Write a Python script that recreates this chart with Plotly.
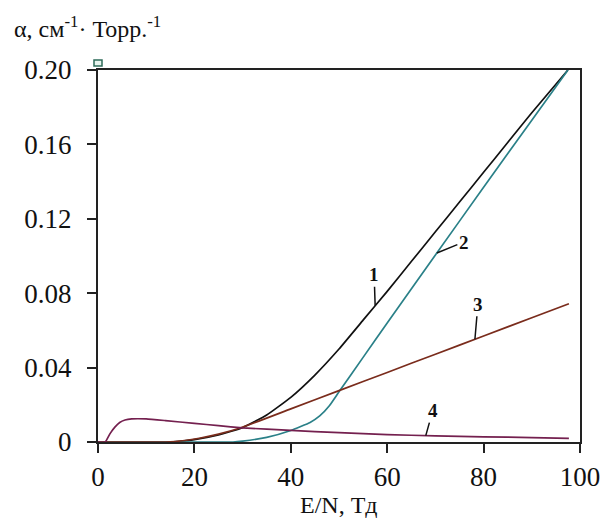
import numpy as np
import plotly.graph_objects as go

# ---- data ----
x1 = [0, 15, 20, 25, 30, 35, 40, 45, 50, 55, 60, 65, 70, 75, 80, 85, 90, 97.5]
y1 = [0, 0, 0.0013, 0.0038, 0.0077, 0.0145, 0.0240, 0.0360, 0.0500, 0.0655, 0.081, 0.097, 0.113, 0.129, 0.145, 0.161, 0.177, 0.2]

x2 = [0, 28, 30, 35, 40, 44, 46, 48, 50, 55, 60, 70, 80, 90, 97.5]
y2 = [0, 0, 0.0005, 0.0025, 0.0062, 0.0105, 0.0140, 0.0195, 0.027, 0.0455, 0.064, 0.1005, 0.137, 0.173, 0.2]

x3 = [0, 14, 18, 21, 25, 29.5, 40, 50, 60, 70, 80, 90, 97.7]
y3 = [0, 0, 0.0008, 0.002, 0.0042, 0.0075, 0.0178, 0.0276, 0.0374, 0.0472, 0.057, 0.0668, 0.0743]

x4 = [0, 1.5, 2.5, 3.5, 4.5, 5.6, 7, 10, 14, 20, 25, 30, 40, 50, 60, 70, 80, 90, 97.7]
y4 = [0, 0, 0.0045, 0.0080, 0.0105, 0.0118, 0.0124, 0.0124, 0.0115, 0.0100, 0.0088, 0.0076, 0.0062,
      0.0050, 0.0040, 0.0033, 0.0028, 0.0024, 0.0020]

curve_names = ["1", "2", "3", "4"]
curve_colors = ["#111111", "#2a8088", "#7a2c1c", "#74204f"]
label_x = [57.5, 70.3, 78.2, 68.0]          # where each label's leader touches its curve
label_off = [(-1, -31), (27, -11), (3, -35), (7, -25)]  # label offsets (px)

x_ticks = [0, 20, 40, 60, 80, 100]
y_ticks = [0, 0.04, 0.08, 0.12, 0.16, 0.20]
y_ticktext = ["0", "0.04", "0.08", "0.12", "0.16", "0.20"]

FONT = "Liberation Serif, Times New Roman, serif"

fig = go.Figure()
xs = [x1, x2, x3, x4]
ys = [y1, y2, y3, y4]
for xv, yv, name, col in zip(xs, ys, curve_names, curve_colors):
    fig.add_trace(go.Scatter(x=xv, y=yv, mode="lines", name=name,
                             line=dict(color=col, width=1.7, shape="spline", smoothing=0.4),
                             showlegend=False, hoverinfo="skip"))

# small open square above the top-left corner of the frame
fig.add_shape(type="rect", xref="paper", yref="paper", xsizemode="pixel", ysizemode="pixel",
              xanchor=0, yanchor=1, x0=-4, x1=4, y0=4, y1=10,
              line=dict(color="#2e6b5a", width=1.5), fillcolor="#e8f4ee", layer="above")

for xv, yv, name, lx, (ax, ay) in zip(xs, ys, curve_names, label_x, label_off):
    ly = float(np.interp(lx, xv, yv))
    fig.add_annotation(x=lx, y=ly, xref="x", yref="y", text="<b>%s</b>" % name,
                       showarrow=True, arrowhead=0, arrowwidth=1.5, arrowcolor="#111111",
                       ax=ax, ay=ay, axref="pixel", ayref="pixel",
                       font=dict(family=FONT, size=19, color="#111111"))

fig.add_annotation(xref="paper", yref="paper", x=-0.178, y=1.1156, xanchor="left", yanchor="middle",
                   text="α, см<sup>-1</sup>· Торр.<sup>-1</sup>", showarrow=False,
                   font=dict(family=FONT, size=24, color="#111111"))
fig.add_annotation(xref="paper", yref="paper", x=0.5, y=0, xanchor="center", yanchor="middle",
                   yshift=-63, text="E/N, Тд", showarrow=False,
                   font=dict(family=FONT, size=24, color="#111111"))

axis_common = dict(showgrid=False, zeroline=False, showline=True, linewidth=2, linecolor="#222222",
                   mirror=True, ticks="outside", ticklen=9, tickwidth=2, tickcolor="#222222",
                   tickfont=dict(family=FONT, size=27, color="#111111"))
fig.update_xaxes(range=[0, 100], tickvals=x_ticks, ticklabelstandoff=1, **axis_common)
fig.update_yaxes(range=[0, 0.2], tickvals=y_ticks, ticktext=y_ticktext, ticklabelstandoff=10,
                 **axis_common)

fig.update_layout(width=616, height=520, margin=dict(l=98, r=36, t=70, b=78),
                  plot_bgcolor="white", paper_bgcolor="white")
fig.write_html("out.html")
